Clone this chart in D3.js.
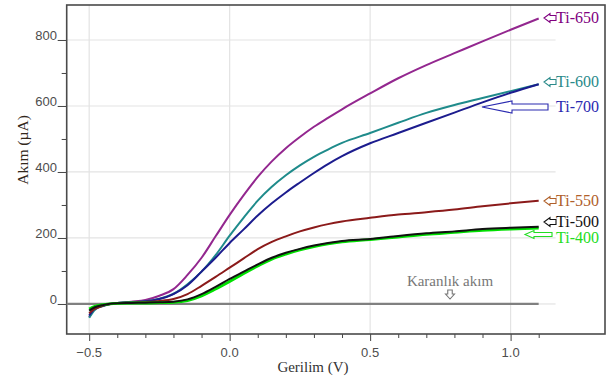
<!DOCTYPE html>
<html>
<head>
<meta charset="utf-8">
<script src="https://cdn.jsdelivr.net/npm/d3@7"></script>
<style>
    body { margin: 0; background: #fff; }
    .tickLabel { font-family: "Liberation Sans", Arial, sans-serif; font-size: 13px; fill: #4d4d4d; }
    .serif { font-family: "Liberation Serif", "Times New Roman", serif; }
</style>
</head>
<body>
<svg class="chart" width="608" height="378"></svg>
<script>
// voltage sample points (V)
let voltage = [-0.5, -0.48, -0.45, -0.4, -0.35, -0.3, -0.25, -0.2, -0.15, -0.1, -0.05, 0, 0.05, 0.1, 0.15, 0.2, 0.25, 0.3, 0.35, 0.4, 0.5, 0.6, 0.7, 0.8, 0.9, 1.0, 1.1];

// current (uA) for each sample
let ti650 = [-40, -15, -5, 3, 7, 12, 25, 45, 88, 140, 205, 270, 330, 385, 432, 472, 506, 537, 564, 590, 638, 684, 724, 760, 796, 831, 865];
let ti600 = [-42, -18, -6, 3, 5, 8, 16, 31, 60, 98, 148, 207, 262, 313, 355, 390, 420, 446, 468, 488, 518, 549, 579, 603, 624, 645, 666];
let ti700 = [-35, -14, -5, 3, 5, 8, 15, 30, 57, 98, 140, 185, 226, 268, 305, 338, 368, 397, 424, 448, 487, 518, 549, 580, 611, 640, 666];
let ti550 = [-28, -15, -5, 2, 4, 6, 9, 15, 30, 55, 82, 110, 138, 166, 188, 205, 220, 232, 242, 250, 261, 271, 278, 286, 296, 305, 313];
let ti500 = [-20, -10, -3, 2, 3, 4, 5, 7, 14, 30, 52, 76, 98, 120, 140, 155, 167, 177, 185, 191, 197, 206, 214, 220, 227, 231, 234];
let ti400 = [-15, -7, -2, 2, 3, 3, 4, 5, 10, 24, 45, 68, 92, 115, 136, 151, 164, 174, 182, 188, 195, 203, 211, 217, 223, 227, 230];

let darkVoltage = [-0.58, 1.1];
let darkCurrent = [0, 0];

let xTicks = [-0.5, 0.0, 0.5, 1.0];
let yTicks = [0, 200, 400, 600, 800];
let gridEnd = 1.16;

let seriesNames = ['Ti-650', 'Ti-600', 'Ti-700', 'Ti-550', 'Ti-400', 'Ti-500'];
let seriesValues = [ti650, ti600, ti700, ti550, ti400, ti500];
let lineColors = ['#93278f', '#1f8b8b', '#1c1c8e', '#8b1a1a', '#00e000', '#111111'];

let width = 608, height = 378;
let margin = { top: 5, right: 3, bottom: 44, left: 66.7 };

let svg = d3.select('.chart');

let xscale = d3.scaleLinear()
    .domain([-0.58, 1.336])
    .range([margin.left, width - margin.right]);

let yscale = d3.scaleLinear()
    .domain([-91, 906])
    .range([height - margin.bottom, margin.top]);

// gridlines
svg.append('g').selectAll('line')
    .data(yTicks.filter(d => d > 0))
    .join('line')
    .attr('x1', xscale(-0.58)).attr('x2', xscale(gridEnd))
    .attr('y1', d => yscale(d)).attr('y2', d => yscale(d))
    .style('stroke', '#e3e3e3').style('stroke-width', 1.2);

svg.append('g').selectAll('line')
    .data(xTicks)
    .join('line')
    .attr('x1', d => xscale(d)).attr('x2', d => xscale(d))
    .attr('y1', margin.top).attr('y2', height - margin.bottom)
    .style('stroke', '#e3e3e3').style('stroke-width', 1.2);

// light zero line past the dark current line
svg.append('line')
    .attr('x1', xscale(1.1)).attr('x2', xscale(gridEnd))
    .attr('y1', yscale(0)).attr('y2', yscale(0))
    .style('stroke', '#e3e3e3').style('stroke-width', 1.2);

// axes
let xAxis = d3.axisBottom(xscale)
    .tickValues(d3.range(-5, 12).map(d => d / 10))
    .tickSize(4).tickSizeOuter(0).tickFormat('');
let yAxis = d3.axisLeft(yscale)
    .tickValues(d3.range(0, 9).map(d => d * 100))
    .tickSize(5).tickSizeOuter(0).tickFormat('');

svg.append('g').classed('xAxis', true).call(xAxis)
    .attr('transform', `translate(0,${height - margin.bottom})`);
svg.append('g').classed('yAxis', true).call(yAxis)
    .attr('transform', `translate(${margin.left},0)`);

d3.selectAll('.xAxis .domain, .yAxis .domain').remove();
d3.selectAll('.xAxis .tick line, .yAxis .tick line').style('stroke', '#444');

// longer major ticks
d3.select('.xAxis').selectAll('.tick line')
    .filter(d => xTicks.some(t => Math.abs(t - d) < 1e-6))
    .attr('y2', 7);
d3.select('.yAxis').selectAll('.tick line')
    .filter(d => d % 200 === 0)
    .attr('x2', -9);

svg.append('g').selectAll('text')
    .data(xTicks)
    .join('text')
    .classed('tickLabel', true)
    .attr('x', d => xscale(d))
    .attr('y', 357)
    .attr('text-anchor', 'middle')
    .text(d => d3.format('.1f')(d));

svg.append('g').selectAll('text')
    .data(yTicks)
    .join('text')
    .classed('tickLabel', true)
    .attr('x', 57)
    .attr('y', d => yscale(d) + 0.5)
    .attr('text-anchor', 'end')
    .text(d => d);

// frame
svg.append('rect')
    .attr('x', margin.left).attr('y', margin.top)
    .attr('width', width - margin.left - margin.right)
    .attr('height', height - margin.top - margin.bottom)
    .style('fill', 'none').style('stroke', '#4a4a4a').style('stroke-width', 1.6);

// axis titles
svg.append('text')
    .classed('serif', true)
    .attr('transform', 'translate(27.5,150)rotate(-90)')
    .attr('text-anchor', 'middle')
    .style('font-size', '15.5px').style('fill', '#33281c')
    .text('Akım (µA)');

svg.append('text')
    .classed('serif', true)
    .attr('x', 313).attr('y', 372)
    .attr('text-anchor', 'middle')
    .style('font-size', '15px').style('fill', '#333')
    .text('Gerilim (V)');

// dark current
let darkLine = d3.line()
    .x((d, i) => xscale(darkVoltage[i]))
    .y(d => yscale(d));

svg.append('path')
    .datum(darkCurrent)
    .attr('d', darkLine)
    .style('fill', 'none').style('stroke', '#808080').style('stroke-width', 2.2);

// series lines
let line = d3.line()
    .x((d, i) => xscale(voltage[i]))
    .y(d => yscale(d))
    .curve(d3.curveMonotoneX);

svg.append('g').selectAll('path')
    .data(seriesValues)
    .join('path')
    .attr('d', line)
    .style('fill', 'none')
    .style('stroke', (d, i) => lineColors[i])
    .style('stroke-width', (d, i) => seriesNames[i] === 'Ti-400' ? 2.8 : 2);

// hollow block arrow pointing left (or down) with tip at (x, y)
function blockArrow(x, y, len, headLen, headH, shaftH, color, dir) {
    let p = [
        [0, 0], [headLen, -headH / 2], [headLen, -shaftH / 2], [len, -shaftH / 2],
        [len, shaftH / 2], [headLen, shaftH / 2], [headLen, headH / 2]
    ];
    let pts = dir === 'down' ? p.map(q => [x + q[1], y - q[0]]) : p.map(q => [x + q[0], y + q[1]]);
    svg.append('polygon')
        .attr('points', pts.map(q => q.join(',')).join(' '))
        .style('fill', '#fff').style('stroke', color).style('stroke-width', 1.1);
}

let labelText = ['Ti-650', 'Ti-600', 'Ti-700', 'Ti-550', 'Ti-500', 'Ti-400'];
let labelColors = ['#800080', '#2a8a8a', '#2a2ab0', '#b0602a', '#111111', '#22dd22'];
let labelY = [23, 87, 112, 206, 226.5, 242.5];
let labelX = [556, 556, 556, 556, 556, 556];

svg.append('g').selectAll('text')
    .data(labelText)
    .join('text')
    .classed('serif', true)
    .attr('x', (d, i) => labelX[i])
    .attr('y', (d, i) => labelY[i])
    .style('font-size', '16px')
    .style('fill', (d, i) => labelColors[i])
    .text(d => d);

blockArrow(544, 18, 12, 6, 9, 5, labelColors[0]);
blockArrow(544, 82, 12, 6, 9, 5, labelColors[1]);
blockArrow(482, 107, 66, 30, 12, 6, labelColors[2]);
blockArrow(544, 201, 12, 6, 9, 5, labelColors[3]);
blockArrow(544, 222, 12, 6, 9, 5, labelColors[4]);
blockArrow(525, 234.5, 27, 9, 8, 4, labelColors[5]);

// dark current annotation
svg.append('text')
    .classed('serif', true)
    .attr('x', 450).attr('y', 286)
    .attr('text-anchor', 'middle')
    .style('font-size', '15px').style('fill', '#777')
    .text('Karanlık akım');

blockArrow(450, 299, 9, 5, 9, 4.5, '#777', 'down');
</script>
</body>
</html>
